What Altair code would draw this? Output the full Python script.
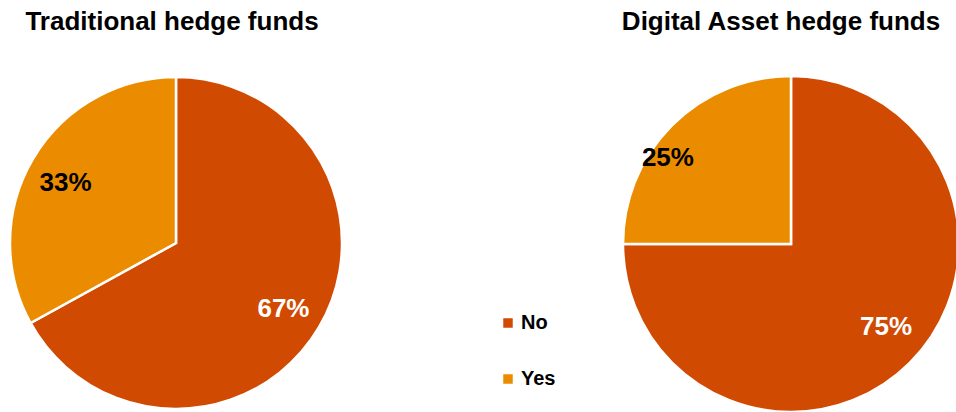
import altair as alt
import pandas as pd

funds = ["Traditional hedge funds", "Digital Asset hedge funds"]
answers = ["No", "Yes"]
trad_values = [67, 33]
digital_values = [75, 25]
colors = ["#D04A02", "#EB8C00"]
label_colors = ["#FFFFFF", "#000000"]

rows = []
for a, v in zip(answers, trad_values):
    rows.append({"fund": funds[0], "answer": a, "value": v})
for a, v in zip(answers, digital_values):
    rows.append({"fund": funds[1], "answer": a, "value": v})
df = pd.DataFrame(rows)

FONT = "Liberation Sans"
centers = {funds[0]: (176, 243), funds[1]: (791, 244)}
radii = {funds[0]: 166, funds[1]: 168}
# label nudges (dx, dy) per fund/answer
nudges = {
    (funds[0], "No"): (-1, 2),
    (funds[0], "Yes"): (-2, 4),
    (funds[1], "No"): (6, -6),
    (funds[1], "Yes"): (-34, 3),
}
title_x = {funds[0]: 172, funds[1]: 781}

color_scale = alt.Scale(domain=answers, range=colors)
label_scale = alt.Scale(domain=answers, range=label_colors)

layers = []
for i, f in enumerate(funds):
    cx, cy = centers[f]
    base = alt.Chart(df).transform_filter(alt.datum.fund == f).transform_calculate(
        label=alt.expr.toString(alt.datum.value) + "%"
    )
    arc = base.mark_arc(outerRadius=radii[f], stroke="white", strokeWidth=2.5).encode(
        theta=alt.Theta("value:Q", stack=True),
        color=alt.Color(
            "answer:N",
            scale=color_scale,
            legend=alt.Legend(
                title=None,
                orient="none",
                legendX=498,
                legendY=313,
                symbolType="square",
                symbolSize=90,
                symbolStrokeWidth=0,
                labelFont=FONT,
                labelFontSize=20,
                labelFontWeight="bold",
                labelColor="#000000",
                labelOffset=3,
                rowPadding=36,
            ) if i == 0 else None,
        ),
        order=alt.Order("answer:N"),
        x=alt.value(cx),
        y=alt.value(cy),
    )
    layers.append(arc)
    for a in answers:
        dx, dy = nudges[(f, a)]
        txt = base.mark_text(
            radius=126, font=FONT, fontSize=26, fontWeight="bold", dx=dx, dy=dy
        ).encode(
            theta=alt.Theta("value:Q", stack=True),
            text=alt.condition(alt.datum.answer == a, "label:N", alt.value("")),
            color=alt.Color("answer:N", scale=label_scale, legend=None),
            order=alt.Order("answer:N"),
            x=alt.value(cx),
            y=alt.value(cy),
        )
        layers.append(txt)
    title = alt.Chart(pd.DataFrame({"t": [f]})).mark_text(
        font=FONT, fontSize=26, fontWeight="bold", color="#000000", baseline="middle"
    ).encode(text="t:N", x=alt.value(title_x[f]), y=alt.value(22))
    layers.append(title)

chart = alt.layer(*layers).resolve_scale(color="independent").properties(
    width=956, height=412, autosize=alt.AutoSizeParams(type="none"), padding=0
).configure_view(stroke=None)

chart.save("out.html", embed_options={"renderer": "svg", "actions": False})
